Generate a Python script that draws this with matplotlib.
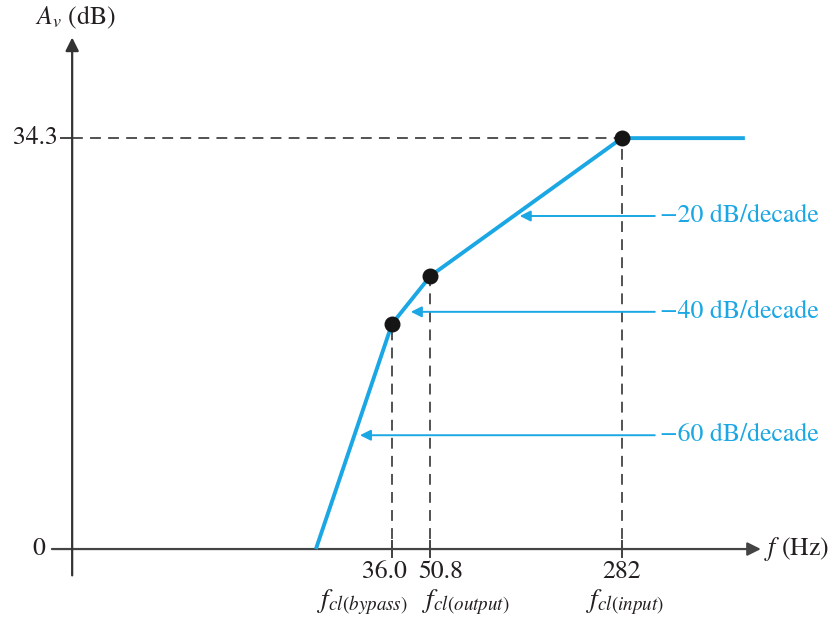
import numpy as np
import matplotlib.pyplot as plt

plt.rcParams['font.family'] = ['STIXGeneral', 'DejaVu Serif']
plt.rcParams['mathtext.fontset'] = 'stix'

# break frequencies (Hz) and asymptotic gain (dB)
freqs = [18.2, 36.0, 50.8, 282.0, 849.0]
gain_db = [0.0, 18.8, 22.8, 34.3, 34.3]
corner_f = [36.0, 50.8, 282.0]
corner_db = [18.8, 22.8, 34.3]
tick_labels = ['36.0', '50.8', '282']
corner_names = [r'$f_{cl(bypass)}$', r'$f_{cl(output)}$', r'$f_{cl(input)}$']
name_pos = [27.5, 69.8, 290.0]
label_pos = [33.6, 55.6, 282.0]

# slope callouts: arrow tip (f, dB), text
slope_tip_f = [113.0, 42.6, 27.0]
slope_tip_db = [27.8, 19.8, 9.5]
slope_text = ['\u221220 dB/decade', '\u221240 dB/decade', '\u221260 dB/decade']

blue = '#1aa7e4'
ink = '#231f20'
fs = 18.5

fig = plt.figure(figsize=(8.31, 6.19), dpi=100)
ax = fig.add_axes([0, 0, 1, 1])
ax.set_xscale('log')
ax.set_xlim(1.074, 1837)
ax.set_ylim(-5.84, 45.83)
ax.axis('off')

# axes with arrows
ax.annotate('', xy=(980, 0), xytext=(1.71, 0),
            arrowprops=dict(arrowstyle='-|>', color='#444444', lw=1.6,
                            mutation_scale=20, shrinkA=0, shrinkB=0))
ax.annotate('', xy=(2.05, 42.7), xytext=(2.05, -2.2),
            arrowprops=dict(arrowstyle='-|>', color='#333333', lw=1.6,
                            mutation_scale=20, shrinkA=0, shrinkB=0))
ax.text(2.1, 44.4, r'$A_v$ (dB)', fontsize=fs, color=ink, ha='center', va='center')
ax.text(1010, 0, r'$f$ (Hz)', fontsize=fs, color=ink, ha='left', va='center')

# y ticks
ax.plot([1.86, 2.05], [34.3, 34.3], color='#444444', lw=1.4)
ax.text(1.80, 34.3, '34.3', fontsize=fs, color=ink, ha='right', va='center')
ax.text(1.61, 0, '0', fontsize=fs, color=ink, ha='right', va='center')

# dashed guides
ax.plot([2.05, corner_f[2]], [34.3, 34.3], ls=(0, (6, 4)), color='#444444', lw=1.3)
for f, g in zip(corner_f, corner_db):
    ax.plot([f, f], [-0.7, g], ls=(0, (6, 4)), color='#444444', lw=1.3)
    ax.plot([f, f], [-0.7, 0.7], color='#444444', lw=1.4)

# response
ax.plot(freqs, gain_db, color=blue, lw=2.8, solid_capstyle='butt', zorder=3)
ax.scatter(corner_f, corner_db, s=110, color='#151515', zorder=4)

for lp, t in zip(label_pos, tick_labels):
    ax.text(lp, -1.95, t, fontsize=fs, color=ink, ha='center', va='center')
for npos, t in zip(name_pos, corner_names):
    ax.text(npos, -4.45, t, fontsize=19.5, color=ink, ha='center', va='center')

for tf, td, t in zip(slope_tip_f, slope_tip_db, slope_text):
    ax.annotate('', xy=(tf, td), xytext=(379, td),
                arrowprops=dict(arrowstyle='-|>', color=blue, lw=1.4,
                                mutation_scale=16, shrinkA=0, shrinkB=0))
    ax.text(398, td, t, fontsize=fs, color=blue, ha='left', va='center')

fig.savefig('out.png', dpi=100)
